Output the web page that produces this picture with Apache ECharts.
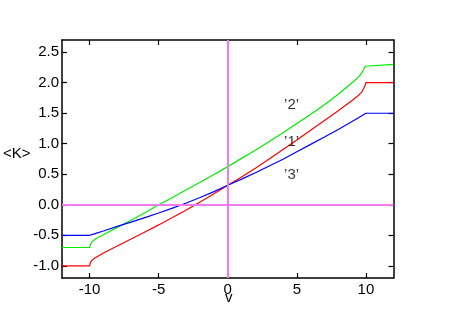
<!DOCTYPE html>
<html><head><meta charset="utf-8">
<script src="https://cdn.jsdelivr.net/npm/echarts@6/dist/echarts.min.js"></script>
<style>html,body{margin:0;padding:0;background:#fff}#c{width:467px;height:327px}</style>
</head><body><div id="c"></div>
<script>
// sample points of v
const vValues = [-12,-10,-9.95,-9.85,-9.7,-9.5,-9,-8,-7,-6,-5,-4,-3,-2,-1,0,1,2,3,4,5,6,7,8,9,9.5,9.7,9.85,9.95,10,12];
// series '1' (red)
const k1 = [-1,-1,-0.95,-0.915,-0.885,-0.855,-0.79,-0.675,-0.562,-0.447,-0.33,-0.21,-0.085,0.045,0.18,0.32,0.455,0.60,0.75,0.905,1.06,1.22,1.38,1.54,1.71,1.80,1.85,1.91,1.96,2.0,2.0];
// series '2' (green)
const k2 = [-0.7,-0.7,-0.655,-0.615,-0.58,-0.55,-0.49,-0.37,-0.255,-0.13,0.0,0.12,0.245,0.37,0.495,0.625,0.76,0.895,1.035,1.18,1.33,1.48,1.64,1.81,2.0,2.1,2.16,2.22,2.27,2.3,2.3];
// series '3' (blue)
const k3 = [-0.5,-0.5,-0.497,-0.49,-0.48,-0.465,-0.43,-0.355,-0.285,-0.21,-0.135,-0.055,0.03,0.12,0.215,0.32,0.42,0.525,0.635,0.745,0.87,0.99,1.11,1.235,1.365,1.43,1.46,1.48,1.493,1.5,1.5];
// tick values
const xTicks = [-10,-5,0,5,10];
const yTicks = [-1.0,-0.5,0.0,0.5,1.0,1.5,2.0,2.5];
// in-plot labels
const labelText = ["\u20192\u2019","\u20191\u2019","\u20193\u2019"];
const labelX = [4.62,4.62,4.62];
const labelY = [1.63,1.03,0.49];

const FONT = 'Liberation Sans';
const pair = (xs, ys) => xs.map((x,i)=>[x, ys[i]]);
const chart = echarts.init(document.getElementById('c'), null, {renderer:'canvas'});

function xAx(pos, showLabel){
  return {type:'value', min:-12, max:12, position:pos,
    axisLine:{show:true, onZero:false, lineStyle:{color:'#000', width:1.5}},
    axisTick:{show:true, inside:true, length:5, customValues:xTicks, lineStyle:{color:'#000', width:1.2}},
    axisLabel:{show:showLabel, customValues:xTicks, fontFamily:FONT, fontSize:15, color:'#000', margin:4,
      formatter:v=>String(v)},
    splitLine:{show:false}};
}
function yAx(pos, showLabel){
  return {type:'value', min:-1.2, max:2.7, position:pos,
    axisLine:{show:true, onZero:false, lineStyle:{color:'#000', width:1.5}},
    axisTick:{show:true, inside:true, length:5, customValues:yTicks, lineStyle:{color:'#000', width:1.2}},
    axisLabel:{show:showLabel, customValues:yTicks, fontFamily:FONT, fontSize:15, color:'#000', margin:3,
      formatter:v=>v.toFixed(1)},
    splitLine:{show:false}};
}

chart.setOption({
  animation:false,
  backgroundColor:'#fff',
  title:[
    {text:'<K>', left:3, top:146, padding:0, textStyle:{fontFamily:FONT, fontSize:15, fontWeight:'normal', color:'#000'}},
    {text:'v', left:225, top:290, padding:0, textStyle:{fontFamily:FONT, fontSize:15, fontWeight:'normal', color:'#000'}}
  ],
  grid:{left:62, right:73.5, top:40, bottom:49, containLabel:false},
  xAxis:[xAx('bottom', true), xAx('top', false)],
  yAxis:[yAx('left', true), yAx('right', false)],
  series:[
    {type:'line', data:[], z:1, silent:true,
      markLine:{silent:true, symbol:['none','none'], label:{show:false},
        lineStyle:{color:'#f07af0', width:2, type:'solid'},
        data:[{yAxis:0},{xAxis:0}]}},
    {name:'1', type:'line', data:pair(vValues,k1), showSymbol:false, z:2,
      lineStyle:{color:'#ff0000', width:1.2}},
    {name:'2', type:'line', data:pair(vValues,k2), showSymbol:false, z:2,
      lineStyle:{color:'#00ee00', width:1.2}},
    {name:'3', type:'line', data:pair(vValues,k3), showSymbol:false, z:2,
      lineStyle:{color:'#0000ff', width:1.2}},
    {type:'scatter', symbolSize:0, z:3, silent:true,
      data:labelX.map((x,i)=>({value:[x,labelY[i]], name:labelText[i]})),
      label:{show:true, position:'inside', formatter:p=>p.name, fontFamily:FONT, fontSize:15, color:'#000'}}
  ]
});
</script>
</body></html>
